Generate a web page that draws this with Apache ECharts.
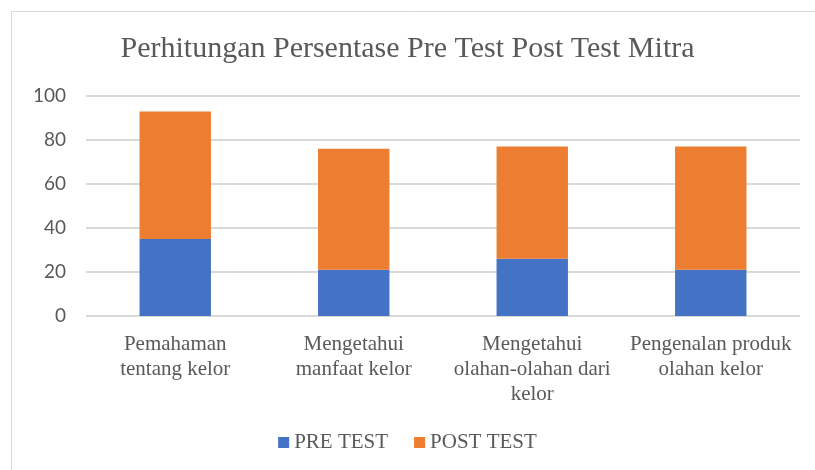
<!DOCTYPE html>
<html>
<head>
<meta charset="utf-8">
<script src="https://cdn.jsdelivr.net/npm/echarts@6/dist/echarts.min.js"></script>
<style>
  html, body { margin: 0; padding: 0; background: #fff; }
  #chart-container { width: 815px; height: 470px; }
</style>
</head>
<body>
<div id="chart-container"></div>
<script>
// Categories (wrapped as in the original chart)
const categories = [
    'Pemahaman\ntentang kelor',
    'Mengetahui\nmanfaat kelor',
    'Mengetahui\nolahan-olahan dari\nkelor',
    'Pengenalan produk\nolahan kelor'
];
const preTest = [35, 21, 26, 21];
const postTest = [58, 55, 51, 56];
const yTicks = { min: 0, max: 100, interval: 20 };

const font = '"Liberation Serif", "Times New Roman", serif';
const numFont = 'Lato, "Open Sans", sans-serif';
const textColor = '#595959';

const container = echarts.init(document.getElementById('chart-container'));

const cfg = {
    animation: false,
    textStyle: { fontFamily: font },
    title: {
        text: 'Perhitungan Persentase Pre Test Post Test Mitra',
        left: 'center',
        top: 29,
        textStyle: { fontFamily: font, fontSize: 30, fontWeight: 'normal', color: textColor }
    },
    legend: {
        bottom: 12,
        left: 'center',
        itemWidth: 11,
        itemHeight: 11,
        itemGap: 26,
        icon: 'rect',
        textStyle: { fontFamily: font, fontSize: 21, color: textColor },
        data: ['PRE TEST', 'POST TEST']
    },
    graphic: [{
        type: 'rect',
        shape: { x: 11.5, y: 11.5, width: 820, height: 470 },
        style: { fill: 'none', stroke: '#d9d9d9', lineWidth: 1 },
        silent: true
    }],
    grid: { left: 86, right: 15, top: 96, bottom: 154 },
    xAxis: {
        type: 'category',
        data: categories,
        axisLine: { show: false },
        axisTick: { show: false },
        axisLabel: {
            margin: 16,
            fontSize: 21,
            lineHeight: 25,
            color: textColor,
            interval: 0,
            fontFamily: font
        }
    },
    yAxis: {
        type: 'value',
        min: yTicks.min,
        max: yTicks.max,
        interval: yTicks.interval,
        axisLine: { show: false },
        axisTick: { show: false },
        axisLabel: { fontSize: 19, color: textColor, margin: 20, fontFamily: numFont },
        splitLine: { lineStyle: { color: '#d9d9d9', width: 2 } }
    },
    series: [{
        name: 'PRE TEST',
        type: 'bar',
        stack: 'total',
        barWidth: '40%',
        itemStyle: { color: '#4472C4' },
        data: preTest
    }, {
        name: 'POST TEST',
        type: 'bar',
        stack: 'total',
        barWidth: '40%',
        itemStyle: { color: '#ED7D31' },
        data: postTest
    }]
};

container.setOption(cfg);
</script>
</body>
</html>
